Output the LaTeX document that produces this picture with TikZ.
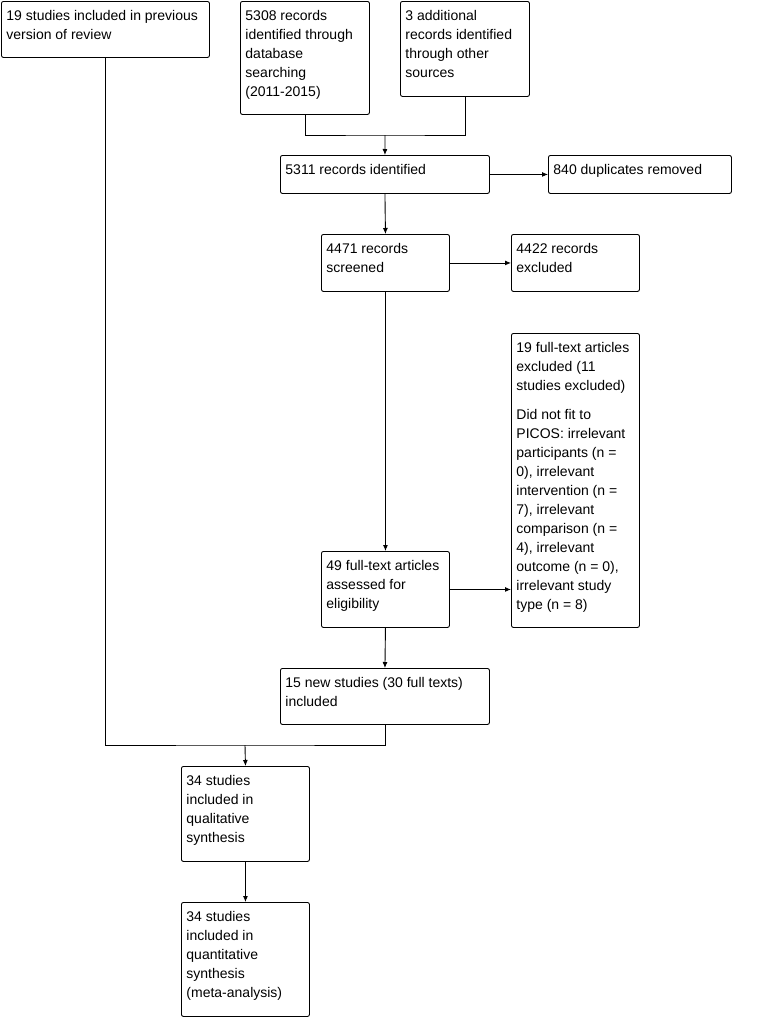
\documentclass[tikz,border=0pt]{standalone}
\usepackage{fontspec}
\setmainfont{Liberation Sans}
\usetikzlibrary{arrows.meta}
% text block at the top left of a box: width, height, text
\newcommand{\flowtext}[3]{\parbox[t][#2][t]{#1}{\raggedright\rule{0pt}{14.5pt}#3}}
\tikzset{
	flowbox/.style={draw, rounded corners=2pt, line width=0.9pt, inner sep=5pt,
		anchor=north west, font=\fontsize{14}{19}\selectfont},
	flowline/.style={line width=0.9pt},
	flowarrow/.style={line width=0.9pt, -{Latex[length=6pt,width=5pt]}}
}
\begin{document}
\begin{tikzpicture}[x=1pt, y=-1pt]
	\useasboundingbox (0,0) rectangle (763,1017);
	%sources
		\node[flowbox] (prev) at (1,1) {\flowtext{198pt}{46pt}{19 studies included in previous\\version of review}};
		\node[flowbox] (db) at (240,1) {\flowtext{119pt}{103pt}{5308 records\\identified through\\database\\searching\\(2011-2015)}};
		\node[flowbox] (other) at (400,1) {\flowtext{119pt}{85pt}{3 additional\\records identified\\through other\\sources}};
	%identification + screening
		\node[flowbox] (ident) at (280,155) {\flowtext{199pt}{28pt}{5311 records identified}};
		\node[flowbox] (dup) at (548,155) {\flowtext{173pt}{28pt}{840 duplicates removed}};
		\node[flowbox] (screen) at (321,234) {\flowtext{118pt}{47pt}{4471 records\\screened}};
		\node[flowbox] (excl) at (511,234) {\flowtext{118pt}{47pt}{4422 records\\excluded}};
	%eligibility
		\node[flowbox] (ftexcl) at (511,333) {\flowtext{118pt}{284pt}{19 full-text articles\\excluded (11\\studies excluded)\\[10pt]Did not fit to\\PICOS: irrelevant\\participants (n =\\0), irrelevant\\intervention (n =\\7), irrelevant\\comparison (n =\\4), irrelevant\\outcome (n = 0),\\irrelevant study\\type (n = 8)}};
		\node[flowbox] (fulltext) at (321,551) {\flowtext{118pt}{66pt}{49 full-text articles\\assessed for\\eligibility}};
	%included
		\node[flowbox] (newstud) at (280,668) {\flowtext{199pt}{46pt}{15 new studies (30 full texts)\\included}};
		\node[flowbox] (qual) at (181,766) {\flowtext{118pt}{85pt}{34 studies\\included in\\qualitative\\synthesis}};
		\node[flowbox] (quant) at (181,902) {\flowtext{118pt}{104pt}{34 studies\\included in\\quantitative\\synthesis\\(meta-analysis)}};
	%joins
		\coordinate (join) at (385,135);
		\coordinate (merge) at (245,745);
	%connectors
		\draw[flowline] (db.south) |- (join) -| (other.south);
		\draw[flowarrow] (join) -- (ident.north);
		\draw[flowarrow] (ident.east) -- (dup.west);
		\draw[flowarrow] (ident.south) -- (screen.north);
		\draw[flowarrow] (screen.east) -- (excl.west);
		\draw[flowarrow] (screen.south) -- (fulltext.north);
		\draw[flowarrow] (fulltext.east) -- (fulltext.east -| ftexcl.west);
		\draw[flowarrow] (fulltext.south) -- (newstud.north);
		\draw[flowline] (prev.south) |- (merge) -| (newstud.south);
		\draw[flowarrow] (merge) -- (qual.north);
		\draw[flowarrow] (qual.south) -- (quant.north);
\end{tikzpicture}
\end{document}
